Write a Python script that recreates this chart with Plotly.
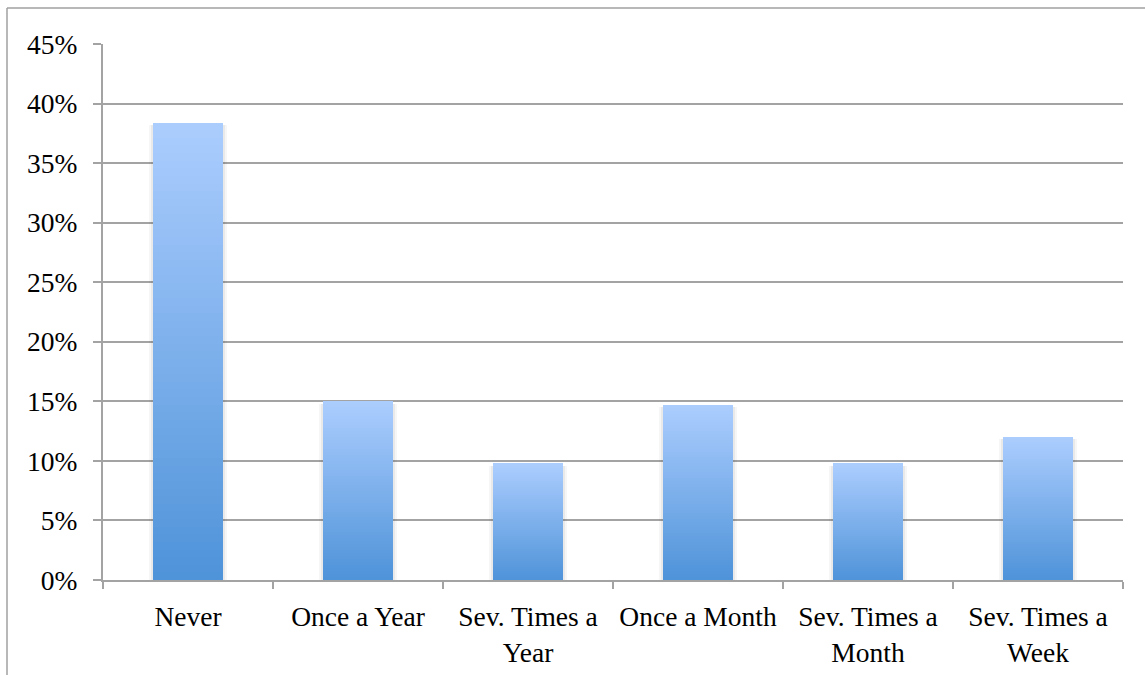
import plotly.graph_objects as go

# Survey: how often respondents do it
categories = ["Never", "Once a Year", "Sev. Times a<br>Year", "Once a Month",
              "Sev. Times a<br>Month", "Sev. Times a<br>Week"]
shares = [38.4, 15.0, 9.8, 14.7, 9.8, 12.0]  # percent of respondents
y_ticks = [0, 5, 10, 15, 20, 25, 30, 35, 40, 45]

# Vertical gradient for each bar: dark blue at the base, light blue at the top
N_STEPS = 60
bottom_rgb = (79, 147, 217)
top_rgb = (171, 205, 254)


def mix(t):
    r, g, b = (round(a + (c - a) * t) for a, c in zip(bottom_rgb, top_rgb))
    return f"rgb({r},{g},{b})"


fig = go.Figure()

# soft drop shadow around each bar (two faint layers)
for w, alpha in [(0.455, 0.035), (0.435, 0.05)]:
    fig.add_trace(go.Bar(
        x=categories, y=shares, width=w, offset=-w / 2,
        marker=dict(color=f"rgba(0,0,0,{alpha})", line=dict(width=0)),
        hoverinfo="skip", showlegend=False, base=-0.2,
    ))

for i in range(N_STEPS):
    fig.add_trace(go.Bar(
        x=categories,
        y=[v / N_STEPS for v in shares],
        marker=dict(color=mix(i / (N_STEPS - 1)), line=dict(width=0)),
        width=0.41, offset=-0.205,
        hoverinfo="skip", showlegend=False,
    ))

grid_col = "#a3a3a3"
font_family = "Liberation Serif"

fig.update_layout(
    width=1145, height=675,
    margin=dict(l=103, r=22, t=44, b=95),
    paper_bgcolor="white", plot_bgcolor="white",
    barmode="stack",
    font=dict(family=font_family, size=27.5, color="black"),
    showlegend=False,
    xaxis=dict(
        type="category", range=[-0.5, 5.5], automargin=False,
        showline=True, linecolor=grid_col, linewidth=2,
        ticks="outside", ticklen=7, tickcolor=grid_col, tickwidth=1.5,
        tickson="boundaries", showgrid=False, ticklabelstandoff=11,
        tickfont=dict(family=font_family, size=27.5),
    ),
    yaxis=dict(
        range=[0, 45], tickvals=y_ticks, automargin=False,
        ticktext=[f"{v}%" for v in y_ticks],
        showgrid=True, gridcolor=grid_col, gridwidth=2,
        showline=True, linecolor=grid_col, linewidth=2,
        ticks="outside", ticklen=8, tickcolor=grid_col, tickwidth=1.5,
        zeroline=False, ticklabelstandoff=10,
        tickfont=dict(family=font_family, size=27.5),
    ),
    shapes=[
        # outer chart frame (top and left edges)
        dict(type="line", xref="paper", yref="paper",
             x0=-96 / 1020, x1=1.05, y0=572 / 536, y1=572 / 536,
             line=dict(color="#a0a0a0", width=1.5)),
        dict(type="line", xref="paper", yref="paper",
             x0=-96 / 1020, x1=-96 / 1020, y0=572 / 536, y1=-0.2,
             line=dict(color="#a0a0a0", width=1.5)),
    ],
)

fig.write_html("out.html")
